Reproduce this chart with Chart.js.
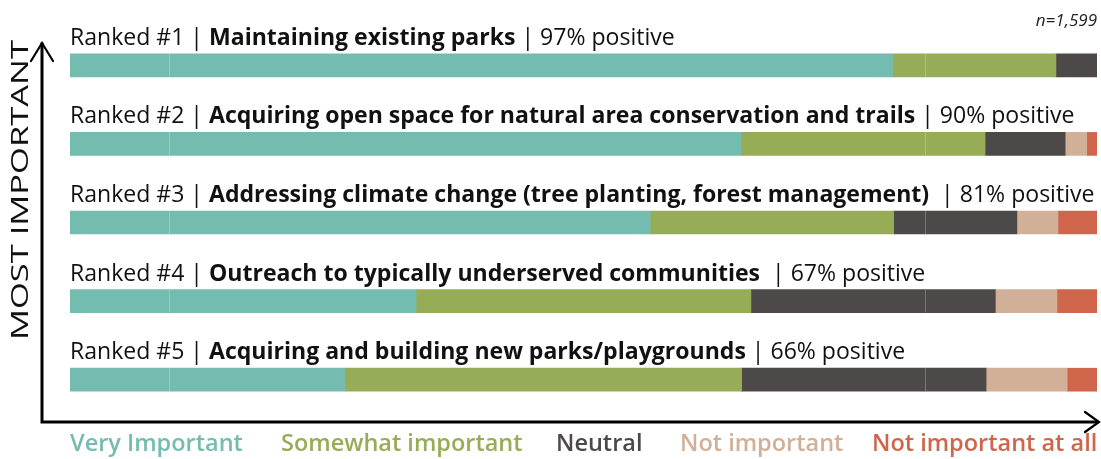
<!DOCTYPE html>
<html>
<head>
<meta charset="utf-8">
<script src="https://cdn.jsdelivr.net/npm/chart.js@4.4.1/dist/chart.umd.min.js"></script>
<style>
  html, body { margin: 0; padding: 0; background: #ffffff; }
  #wrap { width: 1101px; height: 459px; position: relative; }
</style>
</head>
<body>
<div id="wrap"><canvas id="rankChart" width="1101" height="459"></canvas></div>
<script>
const ranks = ["Ranked #1", "Ranked #2", "Ranked #3", "Ranked #4", "Ranked #5"];
const titles = [
  "Maintaining existing parks",
  "Acquiring open space for natural area conservation and trails",
  "Addressing climate change (tree planting, forest management) ",
  "Outreach to typically underserved communities ",
  "Acquiring and building new parks/playgrounds"
];
const positives = ["97% positive", "90% positive", "81% positive", "67% positive", "66% positive"];

const responseLabels = ["Very Important", "Somewhat important", "Neutral", "Not important", "Not important at all"];
const veryImportant     = [80.1, 65.3, 56.5, 33.7, 26.8];
const somewhatImportant = [15.9, 23.8, 23.7, 32.6, 38.6];
const neutral           = [4.0, 7.8, 12.0, 23.8, 23.8];
const notImportant      = [0, 2.1, 4.0, 6.0, 7.9];
const notImportantAtAll = [0, 1.0, 3.8, 3.9, 2.9];
const sampleNote = "n=1,599";
const axisTitle = "MOST IMPORTANT";

const colors = ["#75bcb0", "#96ac57", "#4d4948", "#d2af97", "#cf654a"];
const FONT = "'Open Sans', 'DejaVu Sans', sans-serif";

const seriesValues = [veryImportant, somewhatImportant, neutral, notImportant, notImportantAtAll];

// faint separator lines that run through the bars in the original
const faintLines = [9.6, 83.3];

const overlayPlugin = {
  id: "overlay",
  afterDatasetsDraw(chart) {
    const ctx = chart.ctx;
    const xs = chart.scales.x;
    const area = chart.chartArea;
    const meta = chart.getDatasetMeta(0);

    // faint lines over bars
    ctx.save();
    ctx.strokeStyle = "rgba(255,255,255,0.25)";
    ctx.lineWidth = 1;
    meta.data.forEach((bar) => {
      const top = bar.y - bar.height / 2;
      const bot = bar.y + bar.height / 2;
      faintLines.forEach((v) => {
        const px = Math.round(xs.getPixelForValue(v)) + 0.5;
        ctx.beginPath();
        ctx.moveTo(px, top);
        ctx.lineTo(px, bot);
        ctx.stroke();
      });
    });
    ctx.restore();

    // bar labels: fit font size so label 2 spans the observed width
    ctx.save();
    const base = 20;
    const measure = (i, size) => {
      ctx.font = size + "px " + FONT;
      let w = ctx.measureText(ranks[i] + " | ").width;
      ctx.font = "bold " + size + "px " + FONT;
      w += ctx.measureText(titles[i]).width;
      ctx.font = size + "px " + FONT;
      w += ctx.measureText(" | " + positives[i]).width;
      return w;
    };
    const size = base * 1005 / measure(1, base);
    ctx.fillStyle = "#111111";
    ctx.textBaseline = "alphabetic";
    meta.data.forEach((bar, i) => {
      const y = bar.y - bar.height / 2 - 9;
      let x = area.left;
      ctx.font = size + "px " + FONT;
      const a = ranks[i] + " | ";
      ctx.fillText(a, x, y);
      x += ctx.measureText(a).width;
      ctx.font = "bold " + size + "px " + FONT;
      ctx.fillText(titles[i], x, y);
      x += ctx.measureText(titles[i]).width;
      ctx.font = size + "px " + FONT;
      ctx.fillText(" | " + positives[i], x, y);
    });
    ctx.restore();
  },
  afterDraw(chart) {
    const ctx = chart.ctx;
    const area = chart.chartArea;
    ctx.save();

    // axis arrows
    const ax = 42, ay = 422;
    ctx.strokeStyle = "#000000";
    ctx.lineWidth = 3;
    ctx.lineCap = "square";
    ctx.beginPath();
    ctx.moveTo(ax, 44);
    ctx.lineTo(ax, ay);
    ctx.lineTo(1097, ay);
    ctx.stroke();
    ctx.lineWidth = 2.2;
    ctx.lineCap = "round";
    ctx.lineJoin = "miter";
    ctx.beginPath();
    ctx.moveTo(31, 61);
    ctx.lineTo(ax, 43);
    ctx.lineTo(53, 61);
    ctx.stroke();
    ctx.beginPath();
    ctx.moveTo(1085, 412);
    ctx.lineTo(1099, ay);
    ctx.lineTo(1085, 432);
    ctx.stroke();

    // rotated axis title, stretched along the axis like the original
    ctx.save();
    ctx.translate(28, 190);
    ctx.rotate(-Math.PI / 2);
    ctx.font = "24px " + FONT;
    ctx.fillStyle = "#111111";
    const tw = ctx.measureText(axisTitle).width;
    ctx.scale(300 / tw, 1);
    ctx.textAlign = "center";
    ctx.fillText(axisTitle, 0, 0);
    ctx.restore();

    // sample size note
    ctx.font = "italic 17px " + FONT;
    ctx.fillStyle = "#222222";
    ctx.textAlign = "right";
    ctx.fillText(sampleNote, area.right, 26);

    // colored legend text
    ctx.textAlign = "left";
    const legendX = [70, 281, 556, 680, 872];
    ctx.font = "600 20px " + FONT;
    const lsize = 20 * 173 / ctx.measureText(responseLabels[0]).width;
    ctx.font = "600 " + lsize + "px " + FONT;
    responseLabels.forEach((t, i) => {
      ctx.fillStyle = colors[i];
      ctx.fillText(t, legendX[i], 451);
    });
    ctx.restore();
  }
};

const datasets = responseLabels.map((label, i) => ({
  label: label,
  data: seriesValues[i],
  backgroundColor: colors[i],
  borderWidth: 0,
  barThickness: 23
}));

const rankChart = new Chart(document.getElementById("rankChart").getContext("2d"), {
  type: "bar",
  data: { labels: ranks, datasets: datasets },
  options: {
    indexAxis: "y",
    responsive: false,
    animation: false,
    layout: { padding: { left: 70, right: 4, top: 26, bottom: 40 } },
    plugins: {
      legend: { display: false },
      tooltip: { enabled: false }
    },
    scales: {
      x: { stacked: true, min: 0, max: 100, display: false },
      y: { stacked: true, display: false }
    }
  },
  plugins: [overlayPlugin]
});
</script>
</body>
</html>
